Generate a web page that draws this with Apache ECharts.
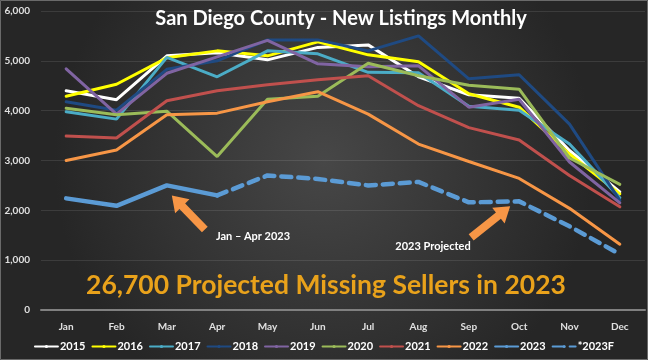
<!DOCTYPE html>
<html><head><meta charset="utf-8">
<script src="https://cdn.jsdelivr.net/npm/echarts@6/dist/echarts.min.js"></script>
<style>html,body{margin:0;padding:0;background:#2b2b2b}#c{width:648px;height:360px}</style>
</head><body><div id="c"></div>
<script>
const months = ['Jan','Feb','Mar','Apr','May','Jun','Jul','Aug','Sep','Oct','Nov','Dec'];
const yTicks = [0,1000,2000,3000,4000,5000,6000];
const s2015 = [4400,4220,5100,5160,5020,5270,5320,4680,4320,4250,3200,2370];
const s2016 = [4290,4530,5060,5200,5100,5380,5120,4980,4340,4070,3130,2330];
const s2017 = [3980,3830,5070,4680,5200,5140,4770,4760,4090,4010,3330,2250];
const s2018 = [4180,4010,4830,5000,5420,5420,5200,5500,4640,4720,3730,2200];
const s2019 = [4840,3930,4750,5080,5410,4940,4880,4900,4070,4230,2970,2150];
const s2020 = [4050,3920,3990,3080,4230,4290,4950,4700,4510,4430,3050,2520];
const s2021 = [3490,3450,4200,4400,4520,4620,4700,4100,3660,3410,2700,2070];
const s2022 = [3000,3210,3920,3950,4180,4380,3930,3330,2980,2640,2040,1320];
const s2023 = [2240,2090,2500,2300,null,null,null,null,null,null,null,null];
const s2023F = [null,null,null,2300,2700,2630,2500,2570,2160,2180,1680,1120];

const names = ['2015','2016','2017','2018','2019','2020','2021','2022','2023','*2023F'];
const values = [s2015,s2016,s2017,s2018,s2019,s2020,s2021,s2022,s2023,s2023F];
const colors = ['#FFFFFF','#FFFF00','#4BACC6','#1F4A82','#8064A2','#9BBB59','#C0504D','#F79646','#5B9BD5','#5B9BD5'];

const series = names.map((n,i)=>({
  name:n, type:'line', data:values[i], symbol:'none', smooth:false,
  connectNulls:false, z: i>=8?5:3,
  lineStyle:{color:colors[i], width: i>=8?4.5:3, type: i===9?[10,7]:'solid', cap:'round'},
  itemStyle:{color:colors[i]}
}));

const chart = echarts.init(document.getElementById('c'));
const FONT = 'Lato';
chart.setOption({
  animation:false,
  backgroundColor:{type:'radial',x:0.5,y:0.45,r:0.75,colorStops:[{offset:0,color:'#474747'},{offset:1,color:'#262626'}]},
  textStyle:{fontFamily:FONT},
  grid:{left:41,right:3,top:11,bottom:50},
  xAxis:{type:'category',data:months,boundaryGap:true,
    axisLine:{lineStyle:{color:'#808080',width:2}},axisTick:{show:false},
    axisLabel:{color:'#e0e0e0',fontWeight:'bold',fontSize:10,margin:12,fontFamily:FONT}},
  yAxis:{type:'value',min:0,max:6000,interval:1000,
    axisLine:{show:false},axisTick:{show:false},
    splitLine:{lineStyle:{color:'rgba(255,255,255,0.1)',width:1}},
    axisLabel:{color:'#e0e0e0',fontWeight:'bold',fontSize:10,margin:11,fontFamily:FONT,
      formatter:v=>v.toLocaleString('en-US')}},
  legend:{data:names,bottom:3,left:'center',itemWidth:23,itemHeight:4,itemGap:6,
    textStyle:{color:'#ffffff',fontWeight:'bold',fontSize:11,fontFamily:FONT,padding:[0,0,0,-3]}},
  series:series
});

function arrow(x1,y1,x2,y2,color){
  const dx=x2-x1, dy=y2-y1, L=Math.hypot(dx,dy), ux=dx/L, uy=dy/L, px=-uy, py=ux;
  const sw=4, hw=10, hl=15;
  const bx=x2-ux*hl, by=y2-uy*hl;
  return {type:'polygon',z:10,shape:{points:[
    [x1+px*sw,y1+py*sw],[bx+px*sw,by+py*sw],[bx+px*hw,by+py*hw],[x2,y2],
    [bx-px*hw,by-py*hw],[bx-px*sw,by-py*sw],[x1-px*sw,y1-py*sw]]},style:{fill:color}};
}
const pMar = chart.convertToPixel({xAxisIndex:0,yAxisIndex:0},['Mar',s2023[2]]);
const pOct = chart.convertToPixel({xAxisIndex:0,yAxisIndex:0},['Oct',s2023F[9]]);

chart.setOption({graphic:[
  {type:'text',x:341,y:19,z:10,style:{text:'San Diego County - New Listings Monthly',fill:'#ffffff',font:'bold 20px '+FONT,align:'center',verticalAlign:'middle'}},
  {type:'text',x:326,y:285,z:10,style:{text:'26,700 Projected Missing Sellers in 2023',fill:'#E9A21B',font:'bold 26.5px '+FONT,align:'center',verticalAlign:'middle'}},
  arrow(pMar[0]+38,pMar[1]+44,pMar[0]+5,pMar[1]+10,'#F79646'),
  arrow(pOct[0]-48,pOct[1]+36,pOct[0]-9,pOct[1]+5,'#F79646'),
  {type:'text',x:253,y:236,z:10,style:{text:'Jan – Apr 2023',fill:'#ffffff',font:'bold 11px '+FONT,align:'center',verticalAlign:'middle'}},
  {type:'text',x:433,y:246,z:10,style:{text:'2023 Projected',fill:'#ffffff',font:'bold 11px '+FONT,align:'center',verticalAlign:'middle'}},
  {type:'rect',shape:{x:0.5,y:0.5,width:647,height:359},style:{fill:null,stroke:'#6a6a6a',lineWidth:1},silent:true,z:0}
]});
</script></body></html>
